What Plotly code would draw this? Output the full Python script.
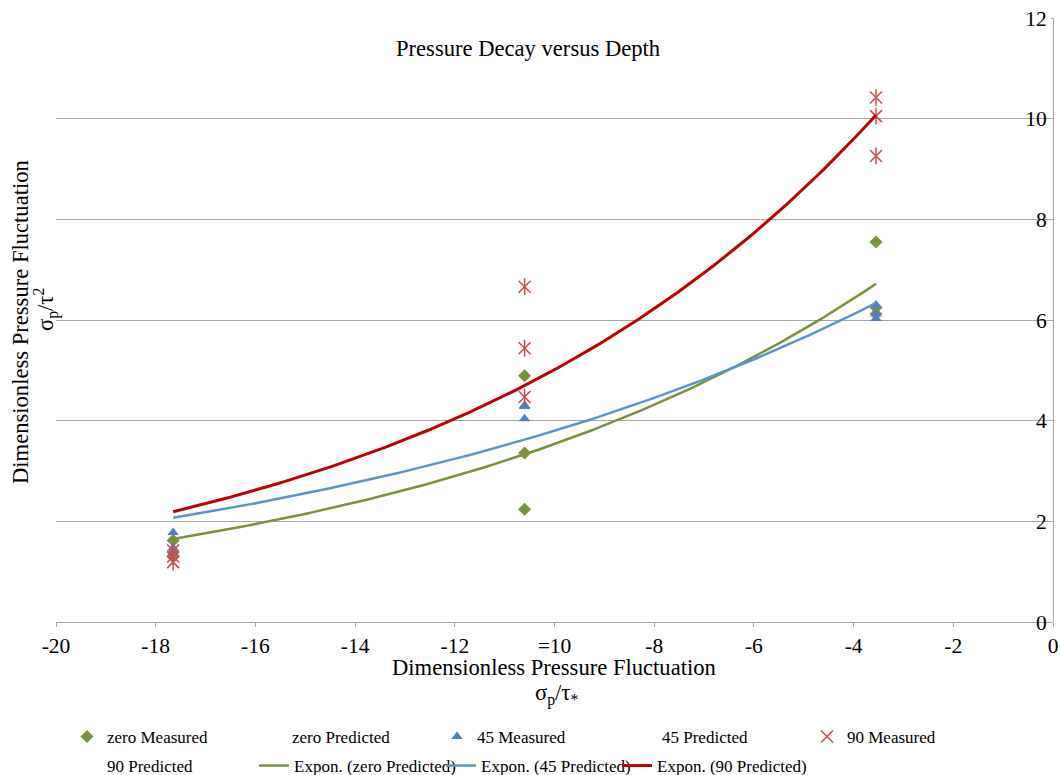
import numpy as np
import plotly.graph_objects as go

# ---------------- data ----------------
x_depth = [-17.65, -17.65, -17.65, -10.6, -10.6, -10.6, -3.55, -3.55, -3.55]
zero_measured = [1.62, 1.38, 1.30, 4.89, 3.36, 2.24, 7.55, 6.25, 6.12]
m45_measured = [1.78, 1.47, 1.36, 4.30, 4.04, 4.28, 6.30, 6.12, 6.03]
m90_measured = [1.42, 1.30, 1.19, 6.66, 5.44, 4.47, 10.42, 10.05, 9.26]

x_pred = [-17.65, -10.6, -3.55]
zero_predicted = [1.65, 3.33, 6.72]
p45_predicted = [2.07, 3.62, 6.34]
p90_predicted = [2.19, 4.70, 10.07]

x_tickvals = [-20, -18, -16, -14, -12, -10, -8, -6, -4, -2, 0]
x_ticktext = ["-20", "-18", "-16", "-14", "-12", "=10", "-8", "-6", "-4", "-2", "0"]
y_tickvals = [0, 2, 4, 6, 8, 10, 12]

# ---------------- styles ----------------
FONT = "Liberation Serif"
GREEN = "#77933C"
BLUE = "#4F81BD"
RED_M = "#CC4C4C"
GREEN_L = "#77933C"
BLUE_L = "#5B93D3"
RED_L = "#C00000"
GRID = "#A6A6A6"

W, H = 1060, 775
L, R, T, B = 56, 1053, 18, 622


def xp(px):
    return (px - L) / (R - L)


def yp(py):
    return (B - py) / (B - T)


def expon_fit(x, y):
    b, lna = np.polyfit(np.asarray(x, float), np.log(np.asarray(y, float)), 1)
    xs = np.linspace(min(x), max(x), 200)
    return xs, np.exp(lna + b * xs)


fig = go.Figure()

fig.add_trace(go.Scatter(x=x_depth, y=zero_measured, mode="markers", name="zero Measured",
                         marker=dict(symbol="diamond", size=10, color=GREEN), legend="legend"))
fig.add_trace(go.Scatter(x=x_pred, y=zero_predicted, mode="markers", name="zero Predicted",
                         marker=dict(size=8, color="rgba(0,0,0,0)"), legend="legend"))
fig.add_trace(go.Scatter(x=x_depth, y=m45_measured, mode="markers", name="45 Measured",
                         marker=dict(symbol="triangle-up", size=10, color=BLUE), legend="legend"))
fig.add_trace(go.Scatter(x=x_pred, y=p45_predicted, mode="markers", name="45 Predicted",
                         marker=dict(size=8, color="rgba(0,0,0,0)"), legend="legend"))
fig.add_trace(go.Scatter(x=x_depth, y=m90_measured, mode="markers", name="90 Measured",
                         marker=dict(symbol="x-thin-open", size=12, color=RED_M,
                                     line=dict(width=1.5, color=RED_M)), legend="legend"))
fig.add_trace(go.Scatter(x=x_depth, y=m90_measured, mode="markers", name="90 Measured",
                         showlegend=False, hoverinfo="skip",
                         marker=dict(symbol="line-ns-open", size=12, color=RED_M,
                                     line=dict(width=1.5, color=RED_M))))
fig.add_trace(go.Scatter(x=x_pred, y=p90_predicted, mode="markers", name="90 Predicted",
                         marker=dict(size=8, color="rgba(0,0,0,0)"), legend="legend2"))

for xs_src, ys_src, nm, col, wd, lg in [
    (x_pred, zero_predicted, "Expon. (zero Predicted)", GREEN_L, 2.5, "legend3"),
    (x_pred, p45_predicted, "Expon. (45 Predicted)", BLUE_L, 2.5, "legend4"),
    (x_pred, p90_predicted, "Expon. (90 Predicted)", RED_L, 3, "legend5"),
]:
    fx, fy = expon_fit(xs_src, ys_src)
    fig.add_trace(go.Scatter(x=fx, y=fy, mode="lines", name=nm,
                             line=dict(color=col, width=wd), legend=lg))

TXT = dict(family=FONT, size=22.6, color="black")
ANN = dict(xref="paper", yref="paper", showarrow=False, xanchor="center", yanchor="middle", font=TXT)
annotations = [
    dict(text="Pressure Decay versus Depth", x=xp(528), y=yp(49), **ANN),
    dict(text="Dimensionless Pressure Fluctuation", x=xp(554), y=yp(667), **ANN),
    dict(text="σ<sub>p</sub>/τ<sub>*</sub>", x=xp(556), y=yp(694), **ANN),
    dict(text="Dimensionless Pressure Fluctuation", x=xp(20), y=yp(322), textangle=-90, **ANN),
    dict(text="σ<sub>p</sub>/τ<sup>2</sup>", x=xp(46), y=yp(310), textangle=-90, **ANN),
]

legend_common = dict(orientation="h", xanchor="left", yanchor="middle",
                     font=dict(family=FONT, size=17, color="black"),
                     bgcolor="rgba(0,0,0,0)", traceorder="normal")

fig.update_layout(
    width=W, height=H,
    margin=dict(l=L, r=W - R, t=T, b=H - B, autoexpand=False),
    paper_bgcolor="white", plot_bgcolor="white",
    font=dict(family=FONT, color="black"),
    showlegend=True,
    legend=dict(x=xp(67), y=yp(737), entrywidth=140, entrywidthmode="pixels", **legend_common),
    legend2=dict(x=xp(67), y=yp(766), **legend_common),
    legend3=dict(x=xp(254), y=yp(766), **legend_common),
    legend4=dict(x=xp(441), y=yp(766), **legend_common),
    legend5=dict(x=xp(617), y=yp(766), **legend_common),
    annotations=annotations,
    xaxis=dict(range=[-20, 0], tickvals=x_tickvals, ticktext=x_ticktext,
               showgrid=False, zeroline=False, showline=True, linecolor=GRID, linewidth=1,
               ticks="outside", ticklen=4, tickcolor=GRID,
               tickfont=dict(family=FONT, size=21.5, color="black")),
    yaxis=dict(range=[0, 12], tickvals=y_tickvals, side="left", anchor="free", position=1,
               ticks="outside", ticklen=2, tickcolor=GRID,
               showgrid=True, gridcolor=GRID, gridwidth=1, zeroline=False,
               showline=True, linecolor=GRID, linewidth=1,
               tickfont=dict(family=FONT, size=21.5, color="black")),
)

fig.write_html("out.html", config={"displayModeBar": False},
               post_script="document.body.style.margin='0px';")
